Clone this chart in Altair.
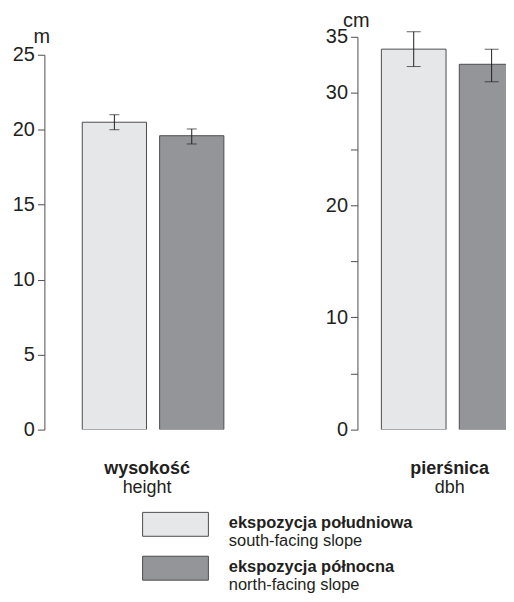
import altair as alt
import pandas as pd

groups = ["ekspozycja południowa", "ekspozycja północna"]
groups_en = ["south-facing slope", "north-facing slope"]
colors = ["#e6e7e8", "#939598"]

height_mean = [20.5, 19.6]
height_lo = [20.0, 19.05]
height_hi = [21.0, 20.05]

dbh_mean = [33.9, 32.55]
dbh_lo = [32.35, 31.0]
dbh_hi = [35.45, 33.9]

height_ticks = [0, 5, 10, 15, 20, 25]
dbh_ticks = [0, 5, 10, 15, 20, 25, 30, 35]

FONT = "Liberation Sans"
INK = "#231f20"
EDGE = "#4d4d4f"

df_h = pd.DataFrame({"group": groups, "mean": height_mean, "lo": height_lo, "hi": height_hi})
df_d = pd.DataFrame({"group": groups, "mean": dbh_mean, "lo": dbh_lo, "hi": dbh_hi})

color_enc = alt.Color("group:N", scale=alt.Scale(domain=groups, range=colors), legend=None)


def panel(df, ydomain, yrange, xrange, width, ticks, label_expr, unit, unit_x, unit_y,
          title, subtitle, title_dx, cap):
    x = alt.X("group:N", sort=groups,
              scale=alt.Scale(range=xrange, paddingInner=0.17, paddingOuter=0), axis=None)
    ys = alt.Scale(domain=ydomain, range=yrange, nice=False, zero=True)
    bars = alt.Chart(df).mark_bar(stroke=EDGE, strokeWidth=1, clip=True).encode(
        x=x,
        y=alt.Y("mean:Q", scale=ys,
                axis=alt.Axis(values=ticks, labelExpr=label_expr, title=unit, titleAngle=0,
                              titleX=unit_x, titleY=unit_y, titleAlign="center",
                              titleBaseline="alphabetic", titleFontSize=20,
                              titleFontWeight="normal", titleFont=FONT, titleColor=INK)),
        color=color_enc,
    )
    rule = alt.Chart(df).mark_rule(color=INK, strokeWidth=1).encode(
        x=x, y=alt.Y("lo:Q", scale=ys), y2="hi:Q")
    cap_lo = alt.Chart(df).mark_tick(color=INK, thickness=1, size=cap).encode(
        x=x, y=alt.Y("lo:Q", scale=ys))
    cap_hi = alt.Chart(df).mark_tick(color=INK, thickness=1, size=cap).encode(
        x=x, y=alt.Y("hi:Q", scale=ys))
    return alt.layer(bars, rule, cap_lo, cap_hi).properties(
        width=width, height=394,
        title=alt.TitleParams(text=title, subtitle=subtitle, orient="bottom", anchor="middle",
                              dx=title_dx, offset=21, font=FONT, fontSize=18, fontWeight="bold",
                              color=INK, subtitleFont=FONT, subtitleFontSize=18,
                              subtitleFontWeight="normal", subtitleColor=INK,
                              subtitlePadding=1),
    )


left = panel(df_h, [0, 25], [394, 18], [38, 180], 314, height_ticks, "datum.label",
             "m", -3, 6, "wysokość", "height", -54, 10)
right = panel(df_d, [0, 35], [394, 0], [24, 167], 149, dbh_ticks,
              "datum.value % 10 === 0 || datum.value === 35 ? datum.label : ''",
              "cm", -1.6, -10, "pierśnica", "dbh", 18, 14)

legend_df = pd.DataFrame({"group": groups, "en": groups_en})
ly = alt.Y("group:N", sort=groups, axis=None, scale=alt.Scale(paddingInner=0, paddingOuter=0))
boxes = alt.Chart(legend_df).mark_bar(size=24, stroke=EDGE, strokeWidth=1).encode(
    y=ly, x=alt.value(98.5), x2=alt.value(164.5), color=color_enc)
t1 = alt.Chart(legend_df).mark_text(align="left", baseline="alphabetic", fontWeight="bold",
                                    fontSize=16.5, font=FONT, color=INK, dy=4).encode(
    y=ly, x=alt.value(185), text="group:N")
t2 = alt.Chart(legend_df).mark_text(align="left", baseline="alphabetic", fontSize=16.5,
                                    font=FONT, color=INK, dy=22).encode(
    y=ly, x=alt.value(185), text="en:N")
legend = alt.layer(boxes, t1, t2).properties(width=314, height=88)

chart = alt.concat(left, right, legend, columns=2, spacing={"row": 73, "column": 0},
                   bounds="flush").resolve_scale(x="independent", y="independent",
                                                 color="shared").properties(
    padding={"left": 3.5, "top": 2, "right": 0, "bottom": 0}
).configure_view(stroke=None).configure_axis(
    domainColor=EDGE, tickColor=EDGE, tickSize=7, labelPadding=3, labelFontSize=20,
    labelFont=FONT, labelColor=INK, grid=False, domainWidth=1, tickWidth=1
)

chart.save("out.html", embed_options={"renderer": "svg", "actions": False})
